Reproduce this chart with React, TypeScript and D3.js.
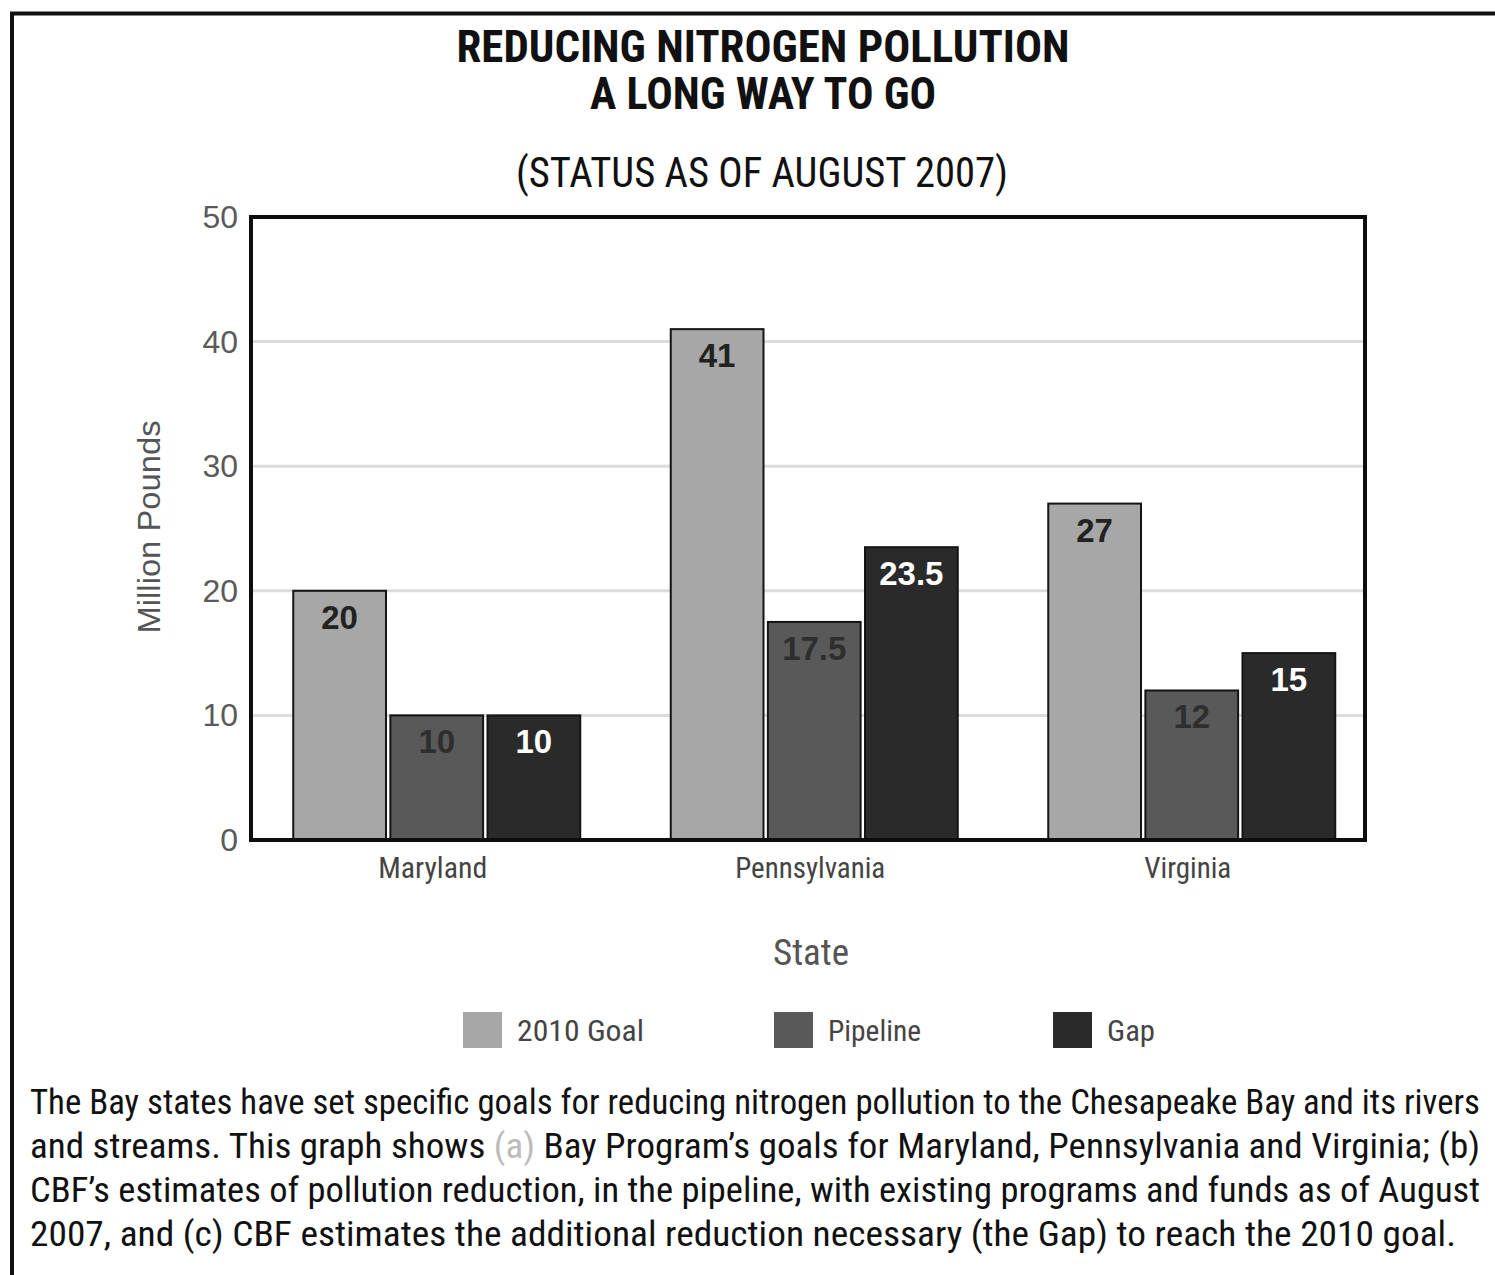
import React from "react";
import * as d3 from "d3";

const states = ["Maryland", "Pennsylvania", "Virginia"];
const seriesNames = ["2010 Goal", "Pipeline", "Gap"];
const goalValues = [20, 41, 27];
const pipelineValues = [10, 17.5, 12];
const gapValues = [10, 23.5, 15];
const yTicks = [0, 10, 20, 30, 40, 50];
const captionLines = [
  "The Bay states have set specific goals for reducing nitrogen pollution to the Chesapeake Bay and its rivers",
  "and streams. This graph shows |(a)| Bay Program\u2019s goals for Maryland, Pennsylvania and Virginia; (b)",
  "CBF\u2019s estimates of pollution reduction, in the pipeline, with existing programs and funds as of August",
  "2007, and (c) CBF estimates the additional reduction necessary (the Gap) to reach the 2010 goal.",
];

const colors = ["#a7a7a7", "#595959", "#2a2a2a"];
const labelColors = ["#222222", "#2e2e2e", "#ffffff"];

const NARROW = "'Liberation Sans Narrow', 'Roboto Condensed', 'Liberation Sans', Arial, sans-serif";
const SANS = "'Liberation Sans', Arial, sans-serif";

export default function App() {
  const W = 1495;
  const H = 1275;
  const plot = { left: 251, right: 1365, top: 217, bottom: 840 };

  const y = d3.scaleLinear().domain([0, 50]).range([plot.bottom, plot.top]);
  const x0 = d3.scaleBand<string>().domain(states).range([248, 1380.5]).paddingInner(0).paddingOuter(0);
  const groupW = 287;
  const x1 = d3.scaleBand<string>().domain(seriesNames).range([0, groupW]).paddingInner(0.045);

  const values = [goalValues, pipelineValues, gapValues];

  const xLabelLen: Record<string, number> = { Maryland: 109, Pennsylvania: 150, Virginia: 87 };
  const legendX = [463, 774, 1053];
  const legendLen = [127, 93, 48];

  return (
    <svg width={W} height={H} style={{ position: "absolute", left: 0, top: 0, background: "#fff" }}>
      <rect x={0} y={0} width={W} height={H} fill="#fff" />
      {/* outer frame */}
      <line x1={10} x2={W} y1={13.5} y2={13.5} stroke="#111" strokeWidth={4} />
      <line x1={12} x2={12} y1={12} y2={H} stroke="#111" strokeWidth={4} />

      {/* titles */}
      <text x={763} y={62} textAnchor="middle" fontFamily={NARROW} fontWeight="bold" fontSize={44} fill="#111"
        textLength={613} lengthAdjust="spacingAndGlyphs">REDUCING NITROGEN POLLUTION</text>
      <text x={763} y={109} textAnchor="middle" fontFamily={NARROW} fontWeight="bold" fontSize={44} fill="#111"
        textLength={346} lengthAdjust="spacingAndGlyphs">A LONG WAY TO GO</text>
      <text x={762} y={187} textAnchor="middle" fontFamily={NARROW} fontSize={42} fill="#111"
        textLength={492} lengthAdjust="spacingAndGlyphs">(STATUS AS OF AUGUST 2007)</text>

      {/* gridlines */}
      {yTicks.filter((t) => t > 0 && t < 50).map((t) => (
        <line key={"g" + t} x1={plot.left} x2={plot.right} y1={y(t)} y2={y(t)} stroke="#dcdcdc" strokeWidth={3} />
      ))}

      {/* y tick labels */}
      {yTicks.map((t) => (
        <text key={"t" + t} x={238} y={y(t) + 11} textAnchor="end" fontFamily={SANS} fontSize={32} fill="#5a5a5a">
          {t}
        </text>
      ))}

      {/* y axis title */}
      <text transform="translate(160,527) rotate(-90)" textAnchor="middle" fontFamily={SANS} fontSize={32} fill="#555"
        textLength={213} lengthAdjust="spacingAndGlyphs">Million Pounds</text>

      {/* bars */}
      {states.map((s, i) => {
        const gx = (x0(s) as number) + (x0.bandwidth() - groupW) / 2;
        return (
          <g key={s} transform={`translate(${gx},0)`}>
            {seriesNames.map((n, j) => {
              const v = values[j][i];
              const bx = x1(n) as number;
              return (
                <g key={n}>
                  <rect x={bx} y={y(v)} width={x1.bandwidth()} height={plot.bottom - y(v)} fill={colors[j]}
                    stroke="#141414" strokeWidth={2} />
                  <text x={bx + x1.bandwidth() / 2} y={y(v) + 38} textAnchor="middle" fontFamily={SANS}
                    fontWeight="bold" fontSize={33} fill={labelColors[j]}>
                    {v}
                  </text>
                </g>
              );
            })}
          </g>
        );
      })}

      {/* plot frame */}
      <rect x={plot.left} y={plot.top} width={plot.right - plot.left} height={plot.bottom - plot.top} fill="none"
        stroke="#0d0d0d" strokeWidth={4} />

      {/* x labels */}
      {states.map((s) => (
        <text key={"x" + s} x={(x0(s) as number) + x0.bandwidth() / 2 - 4} y={878} textAnchor="middle"
          fontFamily={NARROW} fontSize={29} fill="#444" textLength={xLabelLen[s]} lengthAdjust="spacingAndGlyphs">
          {s}
        </text>
      ))}
      <text x={811} y={965} textAnchor="middle" fontFamily={NARROW} fontSize={37} fill="#555"
        textLength={76} lengthAdjust="spacingAndGlyphs">State</text>

      {/* legend */}
      {seriesNames.map((n, j) => (
        <g key={"l" + n}>
          <rect x={legendX[j]} y={1012} width={39} height={36} fill={colors[j]} />
          <text x={legendX[j] + 54} y={1041} fontFamily={NARROW} fontSize={30} fill="#444"
            textLength={legendLen[j]} lengthAdjust="spacingAndGlyphs">{n}</text>
        </g>
      ))}

      {/* caption */}
      {captionLines.map((line, i) => {
        const parts = line.split("|");
        return (
          <text key={"c" + i} x={30} y={1114 + i * 44} fontFamily={NARROW} fontSize={35} fill="#111"
            textLength={i < 3 ? 1450 : 1426} lengthAdjust="spacingAndGlyphs">
            {parts.map((p, k) => (
              <tspan key={k} fill={k === 1 ? "#bbbbbb" : "#111"}>{p}</tspan>
            ))}
          </text>
        );
      })}
    </svg>
  );
}
